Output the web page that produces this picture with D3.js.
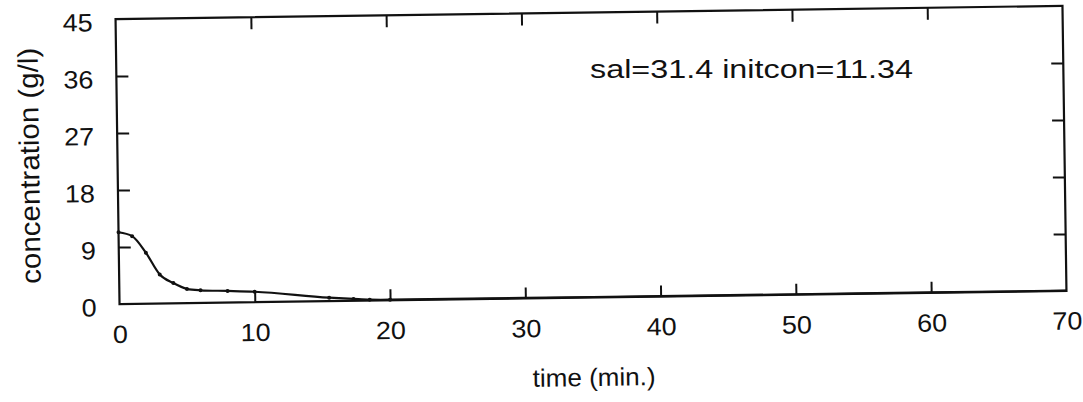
<!DOCTYPE html>
<html>
<head>
<meta charset="utf-8">
<script src="https://cdn.jsdelivr.net/npm/d3@7/dist/d3.min.js"></script>
<style>
  html, body { margin: 0; padding: 0; background: #fff; }
  svg { display: block; }
  text { font-family: "Liberation Sans", Arial, sans-serif; fill: #111; }
  .tick text { font-size: 25px !important; }
</style>
</head>
<body>
<svg id="chart" width="1083" height="402"></svg>
<script>
// ---- data ----
const timeMin = [0, 1, 2, 3, 4, 5, 6, 8, 10, 15.5, 17.3, 18.5, 20, 30, 40, 50, 60, 70];
const concentration = [11.34, 10.7, 8.05, 4.6, 3.2, 2.25, 2.0, 1.84, 1.65, 0.55, 0.3, 0.15, 0.1, 0.08, 0.07, 0.06, 0.05, 0.05];
const xTicks = [0, 10, 20, 30, 40, 50, 60, 70];
const yTicks = [0, 9, 18, 27, 36, 45];
const xLabel = "time (min.)";
const yLabel = "concentration (g/l)";
const note = "sal=31.4  initcon=11.34";

// ---- layout ----
const svg = d3.select("#chart");
const plot = { left: 117.5, top: 12.5, width: 947, height: 285 };
const x = d3.scaleLinear().domain([0, 70]).range([plot.left, plot.left + plot.width]);
const y = d3.scaleLinear().domain([0, 45]).range([plot.top + plot.height, plot.top]);

// the scanned original is slightly tilted
const g = svg.append("g").attr("transform", "rotate(-0.8, 591, 155)");

// frame
g.append("rect")
  .attr("x", plot.left).attr("y", plot.top)
  .attr("width", plot.width).attr("height", plot.height)
  .attr("fill", "none").attr("stroke", "#111").attr("stroke-width", 2.2);

function styleAxis(sel) {
  sel.attr("font-size", 25).attr("font-family", null);
  sel.select(".domain").remove();
  sel.selectAll(".tick line").attr("stroke", "#111").attr("stroke-width", 2);
  sel.selectAll(".tick text")
    .attr("font-size", 25).style("font-size", "25px").attr("fill", "#111")
    .attr("textLength", function () { return this.textContent.length * 15; })
    .attr("lengthAdjust", "spacingAndGlyphs");
}

// bottom axis (ticks inward)
g.append("g")
  .attr("transform", `translate(0,${plot.top + plot.height})`)
  .call(d3.axisBottom(x).tickValues(xTicks).tickSize(-11).tickPadding(21).tickFormat(d3.format("d")))
  .call(styleAxis)
  .call(s => s.selectAll(".tick").filter(d => d === 0 || d === 70).select("line").remove());

// top axis ticks only
g.append("g")
  .attr("transform", `translate(0,${plot.top})`)
  .call(d3.axisTop(x).tickValues(xTicks.slice(1, -1)).tickSize(-12).tickFormat(""))
  .call(styleAxis);

// left axis
g.append("g")
  .attr("transform", `translate(${plot.left},0)`)
  .call(d3.axisLeft(y).tickValues(yTicks).tickSize(-12).tickPadding(23).tickFormat(d3.format("d")))
  .call(styleAxis)
  .call(s => s.selectAll(".tick text").attr("dy", "0.45em"))
  .call(s => s.selectAll(".tick").filter(d => d === 0 || d === 45).select("line").remove());

// right axis ticks only
g.append("g")
  .attr("transform", `translate(${plot.left + plot.width},0)`)
  .call(d3.axisRight(y).tickValues(yTicks.slice(1, -1)).tickSize(-12).tickFormat(""))
  .call(styleAxis);

// curve
const pts = timeMin.map((t, i) => [t, concentration[i]]);
g.append("path")
  .datum(pts)
  .attr("fill", "none").attr("stroke", "#111").attr("stroke-width", 2.2)
  .attr("stroke-linejoin", "round")
  .attr("d", d3.line().x(d => x(d[0])).y(d => y(d[1])).curve(d3.curveMonotoneX));

g.selectAll("circle.pt")
  .data(pts.filter(d => d[0] <= 20))
  .enter().append("circle")
  .attr("class", "pt")
  .attr("cx", d => x(d[0])).attr("cy", d => y(d[1]))
  .attr("r", 2).attr("fill", "#111");

// axis titles
g.append("text")
  .attr("x", 591).attr("y", 386)
  .attr("text-anchor", "middle")
  .style("font-size", "25px")
  .attr("textLength", 123).attr("lengthAdjust", "spacingAndGlyphs")
  .text(xLabel);

g.append("text")
  .attr("transform", "translate(39,158) rotate(-90)")
  .attr("text-anchor", "middle")
  .style("font-size", "28px")
  .attr("textLength", 236).attr("lengthAdjust", "spacingAndGlyphs")
  .text(yLabel);

// annotation
svg.append("text")
  .attr("x", 590).attr("y", 78)
  .style("font-size", "25px")
  .attr("textLength", 323).attr("lengthAdjust", "spacingAndGlyphs")
  .text(note);
</script>
</body>
</html>
